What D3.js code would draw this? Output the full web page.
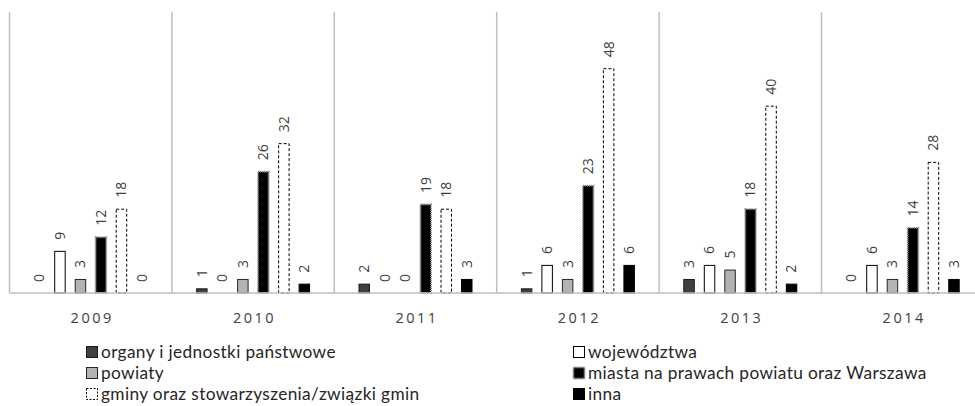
<!DOCTYPE html>
<html><head><meta charset="utf-8">
<script src="https://cdn.jsdelivr.net/npm/d3@7"></script>
<style>body{margin:0;background:#fff}svg{display:block}</style>
</head><body>
<svg id="c" width="975" height="406"></svg>
<script>
const years = ["2009","2010","2011","2012","2013","2014"];
const seriesNames = ["organy i jednostki państwowe","województwa","powiaty","miasta na prawach powiatu oraz Warszawa","gminy oraz stowarzyszenia/związki gmin","inna"];
const organy = [0,1,2,1,3,0];
const wojewodztwa = [9,0,0,6,6,6];
const powiaty = [3,3,0,3,5,3];
const miasta = [12,26,19,23,18,14];
const gminy = [18,32,18,48,40,28];
const inna = [0,2,3,6,2,3];
const values = [organy, wojewodztwa, powiaty, miasta, gminy, inna];

const styles = [
  {fill:"#404040", stroke:"#1a1a1a", sw:1, dash:null},
  {fill:"#ffffff", stroke:"#000", sw:1, dash:null},
  {fill:"#b3b3b3", stroke:"#262626", sw:1, dash:null},
  {fill:"#000000", stroke:"#808080", sw:2, dash:"1,1"},
  {fill:"#ffffff", stroke:"#000", sw:1, dash:"3,2"},
  {fill:"#000000", stroke:"#000", sw:1, dash:null}
];
const FONT = "'Open Sans', Lato, sans-serif";
const LEGFONT = "Lato, 'Open Sans', sans-serif";
const svg = d3.select("#c");
const left = 9.5, catW = 162.4, baseY = 293, topY = 12;
const x = d3.scaleBand().domain(years).range([left, left + catW*years.length]).padding(0);
const xs = d3.scaleBand().domain(d3.range(6)).range([0, catW]).paddingInner(0.44).paddingOuter(1.18);
const y = d3.scaleLinear().domain([0,60]).range([baseY, topY]);

// category separators
svg.append("g").selectAll("line").data(years).join("line")
  .attr("x1", d=>x(d)).attr("x2", d=>x(d)).attr("y1", topY).attr("y2", baseY)
  .attr("stroke","#bfbfbf").attr("stroke-width",1.5);

// bars
const gBars = svg.append("g");
values.forEach((vals, si) => {
  const st = styles[si];
  gBars.append("g").selectAll("rect").data(vals.map((v,i)=>({v, yr:years[i]}))).join("rect")
    .filter(d => d.v > 0)
    .attr("x", d => x(d.yr) + xs(si) + 0.5)
    .attr("width", xs.bandwidth() - 1)
    .attr("y", d => y(d.v) + 0.5)
    .attr("height", d => y(0) - y(d.v) - 0.5)
    .attr("fill", st.fill).attr("stroke", st.stroke).attr("stroke-width", st.sw)
    .attr("stroke-dasharray", st.dash);
});

// baseline
svg.append("line").attr("x1", left).attr("x2", 975).attr("y1", baseY).attr("y2", baseY)
  .attr("stroke","#bfbfbf").attr("stroke-width",1.5);

// value labels
const gLab = svg.append("g").attr("font-family", FONT).attr("font-size", 14).attr("fill","#404040");
values.forEach((vals, si) => {
  vals.forEach((v, i) => {
    const cx = x(years[i]) + xs(si) + xs.bandwidth()/2;
    const ty = y(v) - 11;
    gLab.append("text")
      .attr("transform", `translate(${cx},${ty}) rotate(-90)`)
      .attr("dy","0.35em")
      .attr("text-anchor","start")
      .text(v);
  });
});

// category labels
svg.append("g").selectAll("text").data(years).join("text")
  .attr("x", d => x(d) + catW/2 + 1.5).attr("y", 323)
  .attr("text-anchor","middle").attr("font-family", FONT).attr("font-size", 14.5)
  .attr("letter-spacing", 2.5).attr("fill","#404040").text(d=>d);

// legend
const legPos = [
  {x:86, y:352},{x:573, y:352},
  {x:86, y:373},{x:573, y:373},
  {x:86, y:394},{x:573, y:394}
];
const gLeg = svg.append("g");
seriesNames.forEach((name, si) => {
  const p = legPos[si], st = styles[si];
  gLeg.append("rect").attr("x", p.x + 0.5).attr("y", p.y - 5.5).attr("width", 11).attr("height", 11)
    .attr("fill", st.fill).attr("stroke", st.stroke).attr("stroke-width", st.sw)
    .attr("stroke-dasharray", st.dash === "3,2" ? "2,1.5" : st.dash);
  gLeg.append("text").attr("x", p.x + 15).attr("y", p.y).attr("dy","0.35em")
    .attr("font-family", LEGFONT).attr("font-size", 17.3).attr("letter-spacing", 0.35)
    .attr("fill","#262626").text(name);
});
</script>
</body></html>
